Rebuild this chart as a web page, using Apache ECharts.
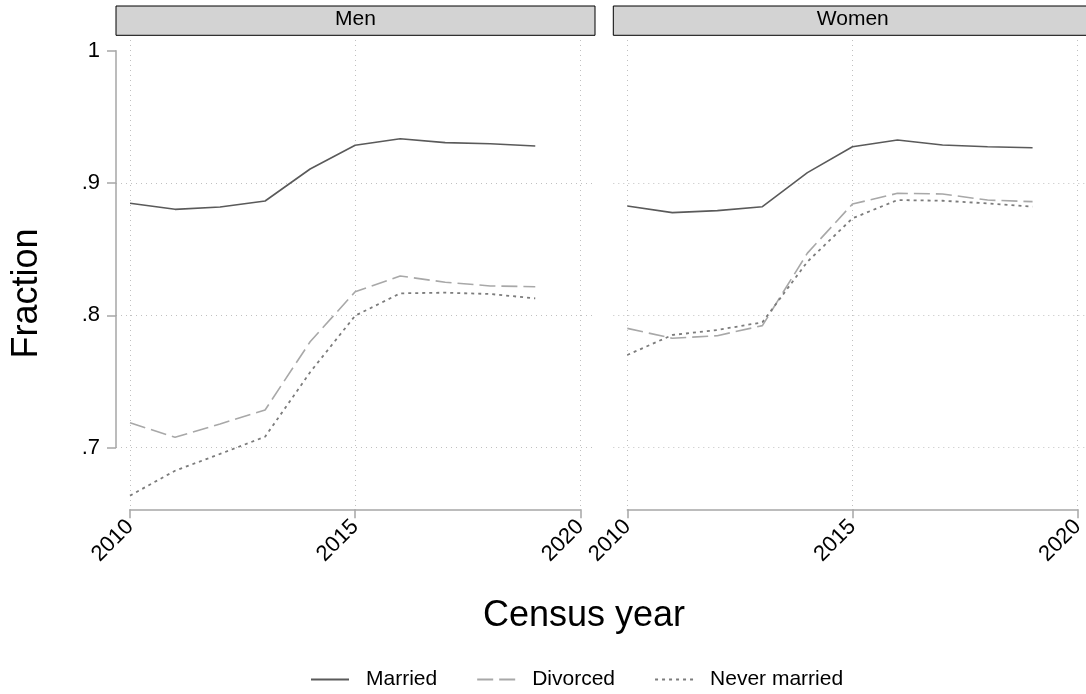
<!DOCTYPE html>
<html>
<head>
<meta charset="utf-8">
<script src="https://cdn.jsdelivr.net/npm/echarts@6/dist/echarts.min.js"></script>
<style>
    html, body { margin: 0; padding: 0; background: #fff; }
    #chart { width: 1086px; height: 694px; }
</style>
</head>
<body>
<div id="chart"></div>
<script>
// data
const years = [2010, 2011, 2012, 2013, 2014, 2015, 2016, 2017, 2018, 2019]
const panels = ['Men', 'Women']
const seriesNames = ['Married', 'Divorced', 'Never married']

const menMarried = [0.8847, 0.8801, 0.8819, 0.8864, 0.9106, 0.9285, 0.9335, 0.9305, 0.9297, 0.9280]
const menDivorced = [0.7188, 0.7078, 0.7179, 0.7284, 0.7800, 0.8178, 0.8297, 0.8250, 0.8222, 0.8216]
const menNever = [0.6637, 0.6825, 0.6952, 0.7082, 0.7570, 0.7997, 0.8166, 0.8171, 0.8161, 0.8128]

const womenMarried = [0.8826, 0.8776, 0.8791, 0.8821, 0.9078, 0.9274, 0.9325, 0.9287, 0.9274, 0.9267]
const womenDivorced = [0.7901, 0.7826, 0.7846, 0.7922, 0.8470, 0.8841, 0.8922, 0.8917, 0.8871, 0.8859]
const womenNever = [0.7700, 0.7851, 0.7889, 0.7947, 0.8405, 0.8733, 0.8871, 0.8866, 0.8846, 0.8821]

const xTickVals = [2010, 2015, 2020]
const xTickLabels = ['2010', '2015', '2020']
const yTickVals = [0.7, 0.8, 0.9, 1]
const yTickLabels = ['.7', '.8', '.9', '1']
const yGridVals = [0.7, 0.8, 0.9]

// layout (pixels)
const FONT = "'Liberation Sans', Arial, sans-serif"
const pxYear = 45.03
const pxUnit = 1323
const plotLeft = [116, 613.3]
const plotWidth = 479
const plotTop = 40
const plotBottom = 509.3
const yOneAt = 50.7      // pixel row of y = 1
const axisInset = 14     // 2010 sits this far right of the plot edge

const xMin = 2010 - axisInset / pxYear
const xMax = xMin + plotWidth / pxYear
const yMax = 1 + (yOneAt - plotTop) / pxUnit
const yMin = 1 - (plotBottom - yOneAt) / pxUnit

const styles = [
    { color: '#5a5a5a', type: 'solid', width: 1.6 },
    { color: '#a8a8a8', type: [16, 6], width: 1.6 },
    { color: '#7c7c7c', type: [3, 4], width: 1.8 },
]
const panelData = [
    [menMarried, menDivorced, menNever],
    [womenMarried, womenDivorced, womenNever],
]

const gridLine = { show: true, lineStyle: { color: '#c0c0c0', type: [1, 4], width: 1 } }
const axisGrey = { color: '#a6a6a6', width: 1.5 }

const grids = []
const xAxes = []
const yAxes = []

// grids 0,1: data area with the dotted grid lines
panels.forEach((p, i) => {
    grids.push({
        left: plotLeft[i], top: plotTop, width: plotWidth, height: plotBottom - plotTop,
        containLabel: false, outerBoundsMode: 'none'
    })
    xAxes.push({
        gridIndex: i, type: 'value', min: xMin, max: xMax,
        axisLine: { show: false }, axisLabel: { show: false },
        axisTick: { show: false, customValues: xTickVals },
        splitLine: gridLine
    })
    yAxes.push({
        gridIndex: i, type: 'value', min: yMin, max: yMax,
        axisLine: { show: false }, axisLabel: { show: false },
        axisTick: { show: false, customValues: yGridVals },
        splitLine: gridLine
    })
})

// grids 2,3: just the axis lines, ticks and labels (they only span the tick range)
panels.forEach((p, i) => {
    const axH = 0.3 * pxUnit
    grids.push({
        left: plotLeft[i] + axisInset, top: yOneAt, width: 10 * pxYear, height: axH,
        containLabel: false, outerBoundsMode: 'none'
    })
    xAxes.push({
        gridIndex: 2 + i, type: 'value', min: 2010, max: 2020, interval: 5,
        position: 'bottom', offset: plotBottom - (yOneAt + axH),
        axisLine: { show: true, onZero: false, lineStyle: axisGrey },
        axisTick: { show: true, length: 9, lineStyle: axisGrey },
        axisLabel: {
            rotate: 45, fontSize: 22, fontFamily: FONT, color: '#000', margin: 14,
            formatter: v => xTickLabels[xTickVals.indexOf(Math.round(v))]
        },
        splitLine: { show: false }
    })
    yAxes.push({
        gridIndex: 2 + i, type: 'value', min: 0.7, max: 1, interval: 0.1,
        show: i === 0, position: 'left', offset: axisInset,
        axisLine: { show: true, onZero: false, lineStyle: axisGrey },
        axisTick: { show: true, length: 9, lineStyle: axisGrey },
        axisLabel: {
            fontSize: 22, fontFamily: FONT, color: '#000', margin: 16,
            formatter: v => yTickLabels[yTickVals.indexOf(Math.round(v * 10) / 10)]
        },
        splitLine: { show: false }
    })
})

const series = []
panels.forEach((p, i) => {
    seriesNames.forEach((name, k) => {
        series.push({
            name: name, type: 'line',
            xAxisIndex: i, yAxisIndex: i,
            symbol: 'none', showSymbol: false,
            lineStyle: styles[k], itemStyle: { color: styles[k].color },
            data: years.map((y, j) => [y, panelData[i][k][j]])
        })
    })
})

// strip headers + axis titles
const graphic = []
panels.forEach((p, i) => {
    graphic.push({
        type: 'rect', shape: { x: plotLeft[i], y: 6, width: plotWidth, height: 29.3 },
        style: { fill: '#d3d3d3', stroke: '#000', lineWidth: 1 }
    })
    graphic.push({
        type: 'text', x: plotLeft[i] + plotWidth / 2, y: 19,
        style: { text: p, font: '21px ' + FONT, fill: '#000', textAlign: 'center', textVerticalAlign: 'middle' }
    })
})
graphic.push({
    type: 'text', x: 27, y: 293.5, rotation: Math.PI / 2,
    style: { text: 'Fraction', font: '36px ' + FONT, fill: '#000', textAlign: 'center', textVerticalAlign: 'middle' }
})
graphic.push({
    type: 'text', x: 584, y: 616,
    style: { text: 'Census year', font: '36px ' + FONT, fill: '#000', textAlign: 'center', textVerticalAlign: 'middle' }
})

const chart = echarts.init(document.getElementById('chart'), null, { renderer: 'canvas' })
const option = {
    animation: false,
    backgroundColor: '#fff',
    grid: grids,
    xAxis: xAxes,
    yAxis: yAxes,
    legend: {
        data: seriesNames,
        left: 310, top: 669, padding: 0,
        itemWidth: 38, itemHeight: 14, itemGap: 39,
        itemStyle: { opacity: 0 },   // hide the circle marker, keep the line
        textStyle: { fontSize: 21, fontFamily: FONT, color: '#000', padding: [0, 0, 0, 12] }
    },
    graphic: graphic,
    series: series
}
chart.setOption(option)
</script>
</body>
</html>
